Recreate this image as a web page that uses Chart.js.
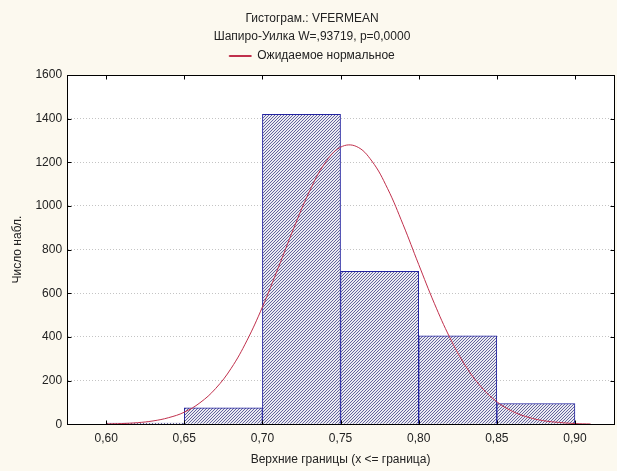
<!DOCTYPE html>
<html>
<head>
<meta charset="utf-8">
<script src="https://cdn.jsdelivr.net/npm/chart.js@4"></script>
<style>
  html, body { margin: 0; padding: 0; background: #fcf9ef; }
  #wrap { width: 617px; height: 471px; }
</style>
</head>
<body>
<div id="wrap"><canvas id="chart" width="617" height="471"></canvas></div>
<script>
// histogram bins (centres of 0.05-wide classes) and counts
const binCenters = [0.625, 0.675, 0.725, 0.775, 0.825, 0.875];
const binCounts = [5, 75, 1420, 700, 405, 95];

// expected normal curve
const curveX = [0.60, 0.61, 0.62, 0.63, 0.64, 0.65, 0.66, 0.67, 0.68, 0.69, 0.70, 0.71, 0.72, 0.73, 0.74, 0.75,
  0.76, 0.77, 0.78, 0.79, 0.80, 0.81, 0.82, 0.83, 0.84, 0.85, 0.86, 0.87, 0.88, 0.89, 0.90, 0.91];
const curveY = [1, 3, 7, 15, 30, 55, 98, 163, 256, 382, 537, 714, 897, 1065, 1196, 1269,
  1273, 1206, 1081, 915, 732, 554, 396, 267, 171, 103, 59, 32, 16, 8, 3, 1];

const xTicks = [0.60, 0.65, 0.70, 0.75, 0.80, 0.85, 0.90];
const yTicks = [0, 200, 400, 600, 800, 1000, 1200, 1400, 1600];

const titleLines = ['Гистограм.: VFERMEAN', 'Шапиро-Уилка W=,93719, p=0,0000'];
const curveLabel = 'Ожидаемое нормальное';

// diagonal "/" hatch for the bars, drawn pixel by pixel
function makeHatch() {
  const c = document.createElement('canvas');
  c.width = 3; c.height = 3;
  const g = c.getContext('2d');
  g.fillStyle = '#ebebf2';
  g.fillRect(0, 0, 3, 3);
  g.fillStyle = '#64649c';
  for (let i = 0; i < 3; i++) {
    for (let j = 0; j < 3; j++) {
      if ((i + j) % 3 === 2) g.fillRect(i, j, 1, 1);
    }
  }
  return g.createPattern(c, 'repeat');
}

const framePlugin = {
  id: 'frame',
  beforeDraw(chart) {
    const { ctx, chartArea: a } = chart;
    ctx.save();
    ctx.fillStyle = '#fcf9ef';
    ctx.fillRect(0, 0, chart.width, chart.height);
    ctx.fillStyle = '#ffffff';
    ctx.fillRect(a.left, a.top, a.right - a.left, a.bottom - a.top);
    ctx.restore();
  },
  afterDraw(chart) {
    const { ctx, chartArea: a, scales } = chart;
    const L = Math.round(a.left) + 0.5, R = Math.round(a.right) + 0.5;
    const T = Math.round(a.top) + 0.5, B = Math.round(a.bottom) + 0.5;
    ctx.save();
    ctx.strokeStyle = '#000';
    ctx.lineWidth = 1;
    ctx.strokeRect(L, T, R - L, B - T);
    // inward tick marks on all four sides
    ctx.beginPath();
    xTicks.forEach(v => {
      const x = Math.round(scales.x.getPixelForValue(v)) + 0.5;
      ctx.moveTo(x, B); ctx.lineTo(x, B - 4);
      ctx.moveTo(x, T); ctx.lineTo(x, T + 4);
    });
    yTicks.forEach(v => {
      const y = Math.round(scales.y.getPixelForValue(v)) + 0.5;
      ctx.moveTo(L, y); ctx.lineTo(L + 4, y);
      ctx.moveTo(R, y); ctx.lineTo(R - 4, y);
    });
    ctx.stroke();
    ctx.restore();
  }
};

const font = { family: 'Liberation Sans, Arial, sans-serif', size: 12, weight: 'normal' };

new Chart(document.getElementById('chart'), {
  type: 'bar',
  data: {
    datasets: [
      {
        type: 'line',
        label: curveLabel,
        data: curveX.map((x, i) => ({ x, y: curveY[i] })),
        borderColor: '#c0304c',
        borderWidth: 1,
        pointRadius: 0,
        tension: 0.4,
        fill: false,
        order: 0
      },
      {
        label: 'bins',
        data: binCenters.map((x, i) => ({ x, y: binCounts[i] })),
        backgroundColor: makeHatch(),
        borderColor: '#2323a0',
        borderWidth: 1,
        barPercentage: 1,
        categoryPercentage: 1,
        order: 1
      }
    ]
  },
  options: {
    responsive: false,
    animation: false,
    layout: { padding: { top: 10, right: 3, left: 10, bottom: 4 } },
    plugins: {
      title: {
        display: true,
        text: titleLines,
        color: '#222',
        font: { ...font, lineHeight: 1.5 },
        padding: { top: 0, bottom: -7 }
      },
      legend: {
        display: true,
        labels: {
          filter: item => item.text === curveLabel,
          color: '#222',
          font,
          boxWidth: 22,
          boxHeight: 1,
          padding: 11
        }
      },
      tooltip: { enabled: false }
    },
    scales: {
      x: {
        type: 'linear',
        min: 0.575,
        max: 0.925,
        offset: false,
        afterBuildTicks: s => { s.ticks = xTicks.map(v => ({ value: v })); },
        ticks: {
          color: '#222',
          font,
          callback: v => v.toFixed(2).replace('.', ','),
          padding: 7
        },
        grid: { display: false, drawTicks: false },
        border: { color: '#000' },
        title: { display: true, text: 'Верхние границы (x <= граница)', color: '#222', font, padding: { top: 0, bottom: 0 } }
      },
      // empty strip between the legend and the plot frame
      gap: {
        axis: 'x',
        position: 'top',
        grid: { display: false, drawTicks: false },
        ticks: { display: false },
        border: { display: false },
        afterFit: s => { s.height = 3; }
      },
      y: {
        min: 0,
        max: 1600,
        afterBuildTicks: s => { s.ticks = yTicks.map(v => ({ value: v })); },
        ticks: { color: '#222', font, padding: 5, callback: v => String(v) },
        grid: { color: '#c4c4c4', drawTicks: false },
        border: { color: '#000', dash: [1, 2] },
        title: { display: true, text: 'Число набл.', color: '#222', font, padding: { top: 0, bottom: 6 } }
      }
    }
  },
  plugins: [framePlugin]
});
</script>
</body>
</html>
